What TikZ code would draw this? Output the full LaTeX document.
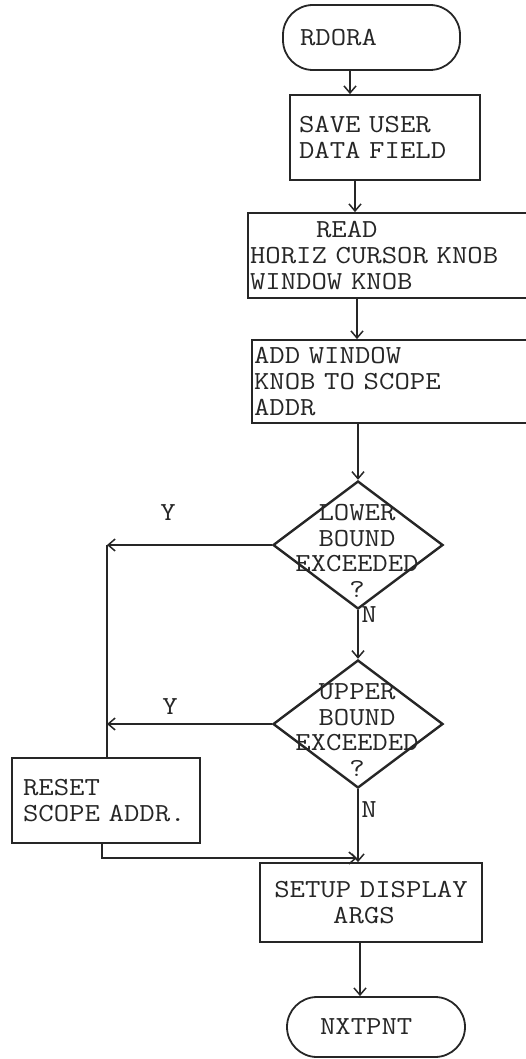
\documentclass[tikz,border=0pt]{standalone}
\usepackage{fontspec}
\setmonofont{Latin Modern Mono}[FakeStretch=1.15]
\usetikzlibrary{arrows.meta,shapes.geometric}
\newcommand\diagfont{\ttfamily\fontsize{26}{25.6}\selectfont\spaceskip=19pt\relax}
\begin{document}
\begin{tikzpicture}[x=1pt,y=-1pt,
  txt/.style={font=\diagfont, text=black!85},
  boxnode/.style={txt, draw=black!85, line width=1.8pt, rectangle, align=left, inner ysep=0pt},
  term/.style={boxnode, rounded corners=30pt},
  dia/.style={draw=black!85, line width=2.4pt, diamond, inner sep=0pt, minimum width=170pt, minimum height=128pt},
  arr/.style={draw=black!85, line width=1.5pt, -{Straight Barb[length=7pt,width=12pt]}},
  ln/.style={draw=black!85, line width=1.5pt}]
\useasboundingbox (0,0) rectangle (526,1059);

% nodes
\node[term, minimum width=177pt, minimum height=65pt, text width=143pt, inner xsep=17pt] (rdora) at (371.5,37.5) {RDORA};
\node[boxnode, minimum width=190pt, minimum height=85pt, text width=172pt, inner xsep=9pt] (save) at (385,137.5) {SAVE USER\\DATA FIELD};
\node[boxnode, minimum width=280pt, minimum height=85pt, text width=276pt, inner xsep=2pt] (read) at (388,255.5) {\hspace*{66pt}READ\\HORIZ CURSOR KNOB\\WINDOW KNOB};
\node[boxnode, minimum width=276pt, minimum height=83pt, text width=272pt, inner xsep=2pt] (add) at (390,381.5) {ADD WINDOW\\KNOB TO SCOPE\\ADDR};
\node[dia] (d1) at (358,545) {};
\node[txt, align=center] (d1t) at (357,551) {LOWER\\BOUND\\EXCEEDED\\?};
\node[dia] (d2) at (358,724) {};
\node[txt, align=center] (d2t) at (357,730) {UPPER\\BOUND\\EXCEEDED\\?};
\node[boxnode, minimum width=188pt, minimum height=85pt, text width=180pt, inner xsep=4pt] (reset) at (106,800.5) {\hspace*{7pt}RESET\\\hspace*{7pt}SCOPE ADDR.};
\node[boxnode, minimum width=222pt, minimum height=79pt, text width=218pt, inner xsep=2pt, align=center] (setup) at (371,902.5) {SETUP DISPLAY\\ARGS\hspace*{14pt}};
\node[term, minimum width=178pt, minimum height=60pt, text width=112pt, inner xsep=33pt] (nxt) at (376,1027) {NXTPNT};

\node[txt] (y1) at (168,513) {Y};
\node[txt] (y2) at (170,707) {Y};
\node[txt] (n1) at (369,615) {N};
\node[txt] (n2) at (369,810) {N};

% helper coordinates
\coordinate (c1) at (350,0);
\coordinate (c2) at (355,0);
\coordinate (c3) at (357,0);
\coordinate (c4) at (360,0);
\coordinate (vl) at (107,0);
\coordinate (mrg) at (357,858);

% connectors
\draw[arr] (rdora.south -| c1) -- (save.north -| c1);
\draw[arr] (save.south -| c2) -- (read.north -| c2);
\draw[arr] (read.south -| c3) -- (add.north -| c3);
\draw[arr] (add.south -| d1.north) -- (d1.north);
\draw[arr] (d1.south) -- (d2.north);
\draw[arr] (d1.west) -- (d1.west -| vl);
\draw[arr] (d2.west) -- (d2.west -| vl);
\draw[ln] (d1.west -| vl) -- (reset.north -| vl);
\draw[arr] ([xshift=-4pt]reset.south) |- (mrg);
\draw[arr] (d2.south) -- (setup.north -| d2.south);
\draw[arr] (setup.south -| c4) -- (nxt.north -| c4);
\end{tikzpicture}
\end{document}
